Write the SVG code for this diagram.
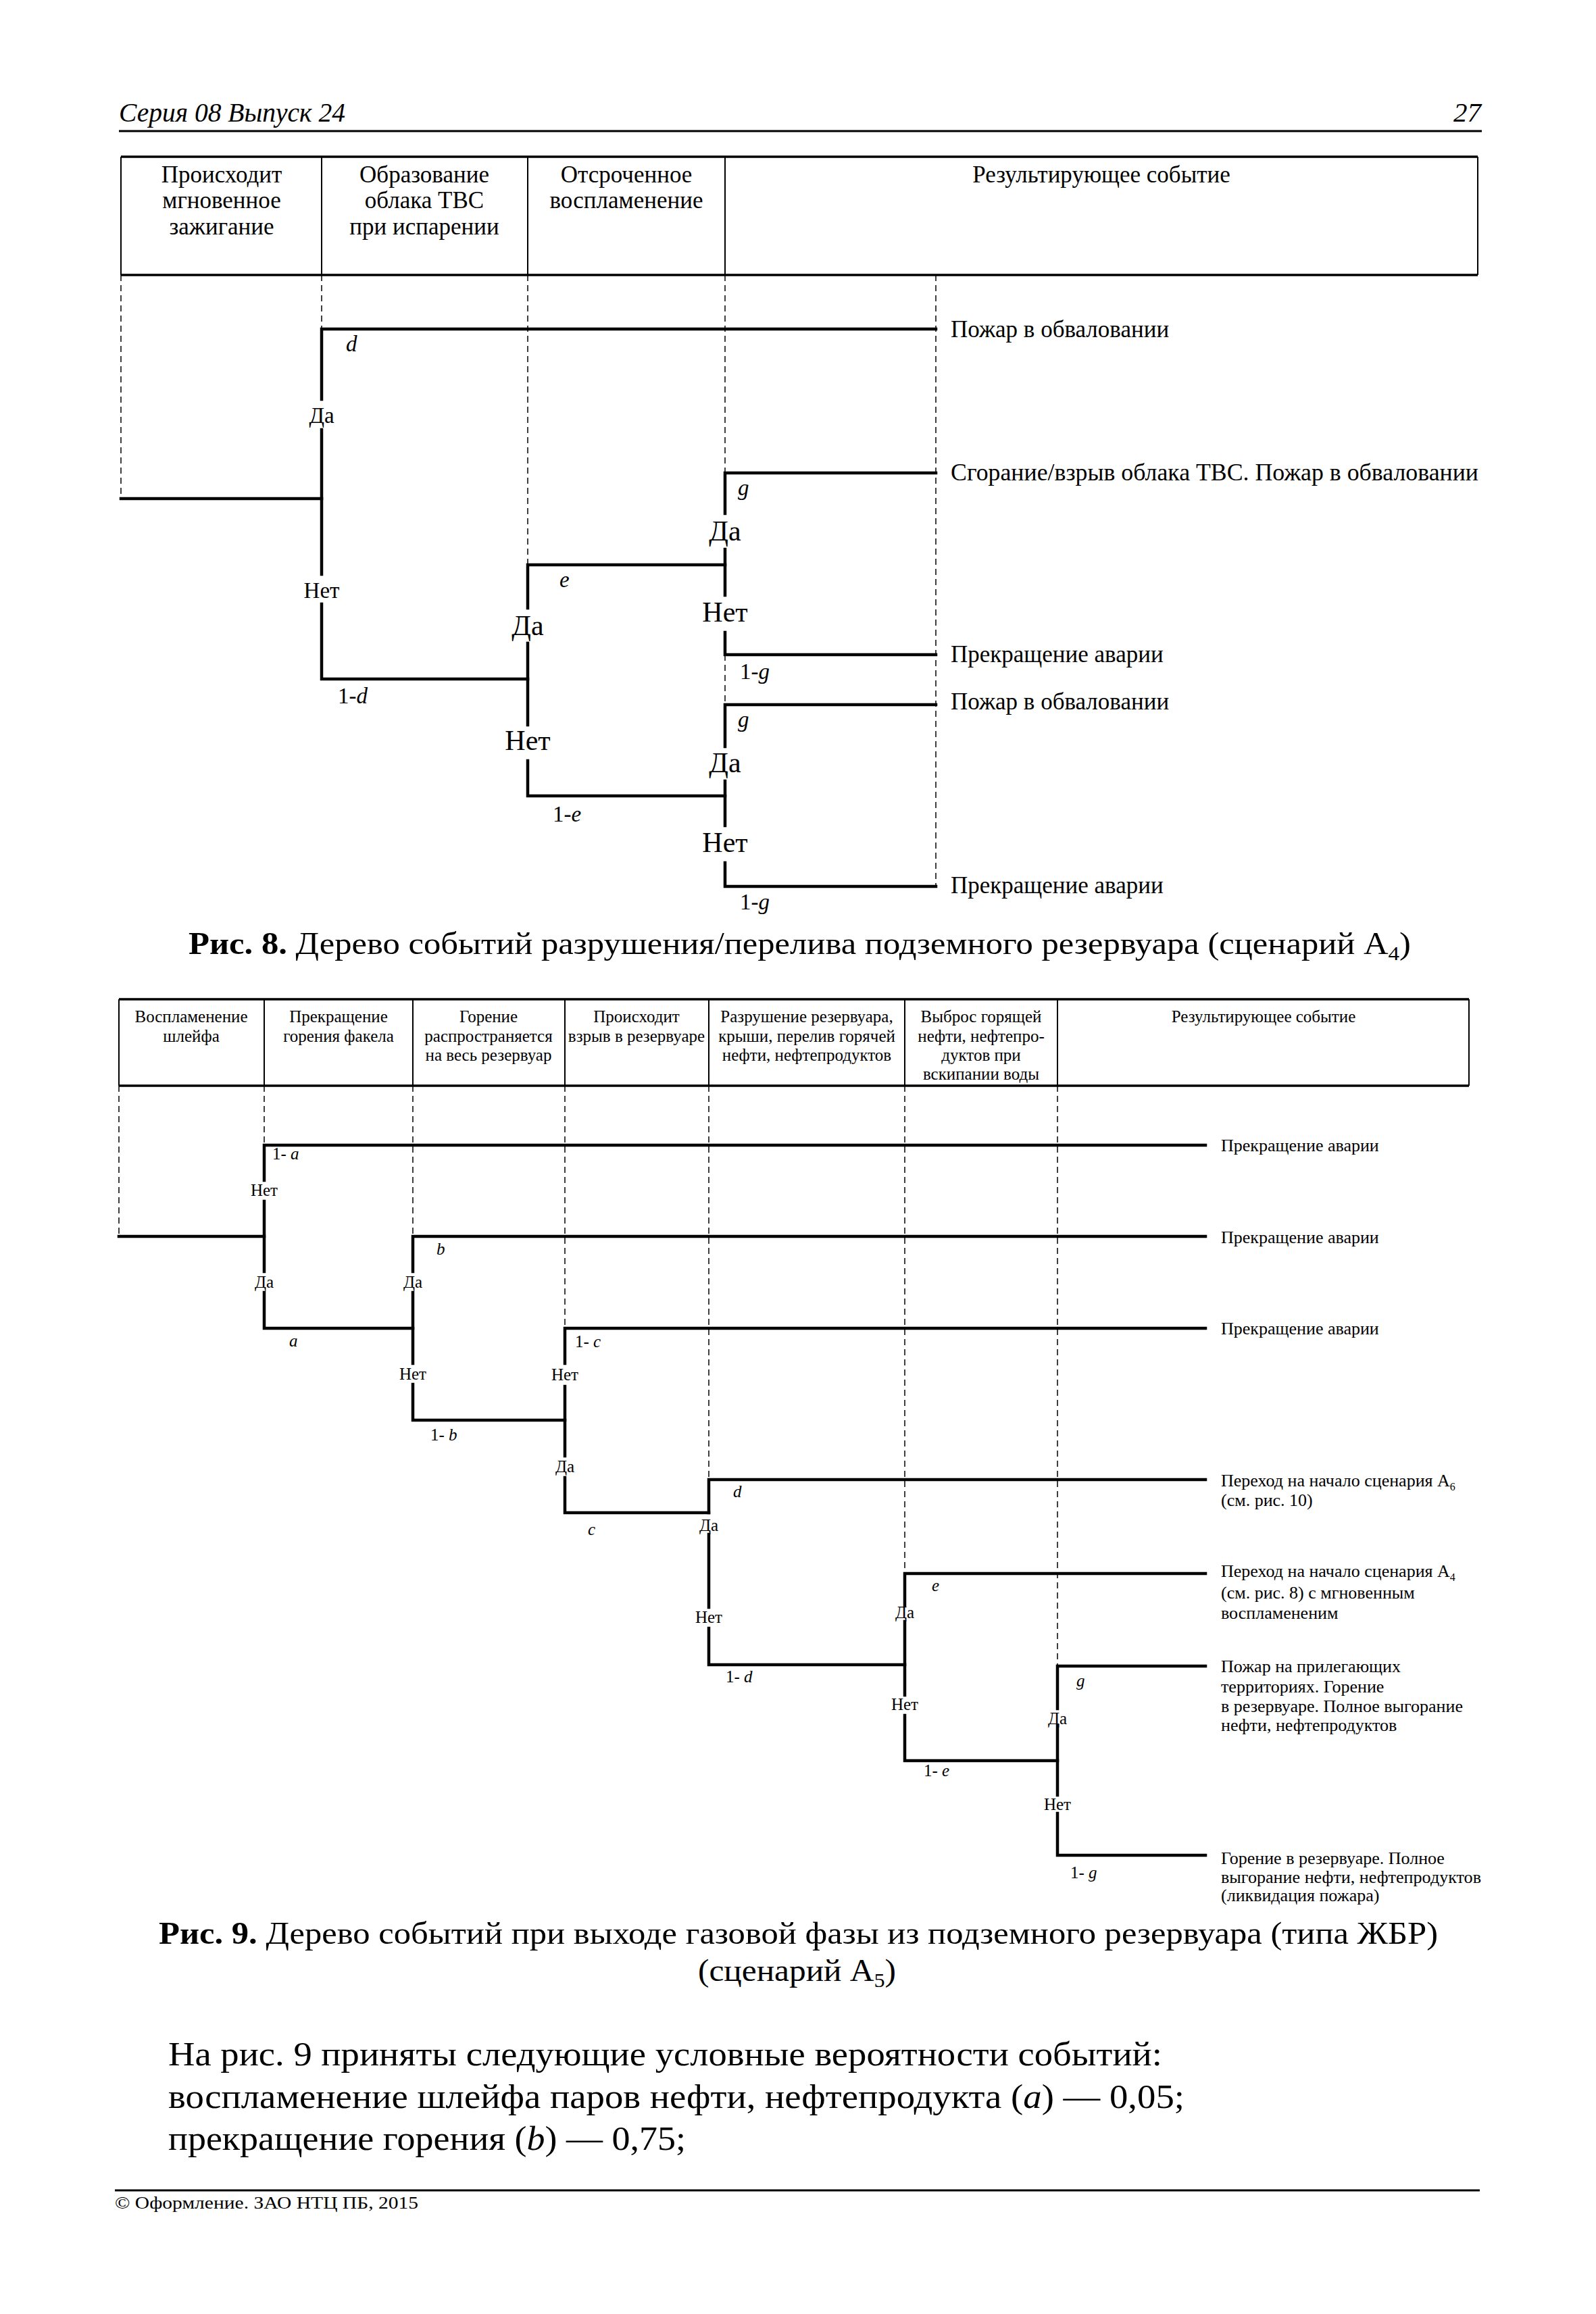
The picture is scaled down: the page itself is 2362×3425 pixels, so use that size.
<svg xmlns="http://www.w3.org/2000/svg" width="2362" height="3425" viewBox="0 0 2362 3425">
<style>
text{font-family:"Liberation Serif","Times New Roman",serif;fill:#000}
.it{font-style:italic}
.b{font-weight:bold}
.m{text-anchor:middle}
.h8{font-size:35px}
.l1{font-size:33px}
.l2{font-size:42px}
.r8{font-size:35px}
.h9{font-size:25px}
.l9{font-size:25px}
.r9{font-size:26px}
.cap{font-size:46px}
.body{font-size:51px}
.br{stroke:#000;stroke-width:4.5;fill:none;stroke-linecap:square}
.ds{stroke:#000;stroke-width:1.5;fill:none;stroke-dasharray:9 6}
.tb{stroke:#000;stroke-width:2;fill:none}
.tt{stroke:#000;stroke-width:3.5;fill:none}
</style>
<rect x="0" y="0" width="2362" height="3425" fill="#fff"/>

<g id="page-header">
<text x="176" y="180" class="it" font-size="41" textLength="335" lengthAdjust="spacingAndGlyphs">Серия 08 Выпуск 24</text>
<text x="2192" y="180" class="it" font-size="41" text-anchor="end">27</text>
<line x1="176" y1="194" x2="2193" y2="194" stroke="#000" stroke-width="3"/>
</g>

<!-- ================= FIGURE 8 ================= -->
<g id="fig8-table">
<line class="tt" x1="179" y1="232" x2="2187" y2="232"/>
<line class="tt" x1="179" y1="407" x2="2187" y2="407"/>
<line class="tb" x1="179" y1="232" x2="179" y2="407"/>
<line class="tb" x1="476" y1="232" x2="476" y2="407"/>
<line class="tb" x1="781" y1="232" x2="781" y2="407"/>
<line class="tb" x1="1073" y1="232" x2="1073" y2="407"/>
<line class="tb" x1="2187" y1="232" x2="2187" y2="407"/>
<text class="h8 m" x="328" y="270">Происходит</text>
<text class="h8 m" x="328" y="308">мгновенное</text>
<text class="h8 m" x="328" y="347">зажигание</text>
<text class="h8 m" x="628" y="270">Образование</text>
<text class="h8 m" x="628" y="308">облака ТВС</text>
<text class="h8 m" x="628" y="347">при испарении</text>
<text class="h8 m" x="927" y="270">Отсроченное</text>
<text class="h8 m" x="927" y="308">воспламенение</text>
<text class="h8 m" x="1630" y="270">Результирующее событие</text>
</g>

<g id="fig8-connectors">
<line class="ds" x1="179" y1="407" x2="179" y2="738"/>
<line class="ds" x1="476" y1="407" x2="476" y2="487"/>
<line class="ds" x1="781" y1="407" x2="781" y2="836"/>
<line class="ds" x1="1073" y1="407" x2="1073" y2="700"/>
<line class="ds" x1="1073" y1="969" x2="1073" y2="1043"/>
<line class="ds" x1="1385" y1="407" x2="1385" y2="1312"/>
<path class="br" d="M179 738 H476"/>
<path class="br" d="M1385 487 H476 V591 M476 636 V850 M476 894 V1005 H781"/>
<path class="br" d="M1073 836 H781 V900 M781 952 V1073 M781 1126 V1178 H1073"/>
<path class="br" d="M1385 700 H1073 V760 M1073 813 V881 M1073 936 V969 H1385"/>
<path class="br" d="M1385 1043 H1073 V1105 M1073 1156 V1222 M1073 1277 V1312 H1385"/>
</g>

<g id="fig8-node-ignition">
<text class="l1 m" x="476" y="626">Да</text>
<text class="l1 m" x="476" y="885">Нет</text>
<text class="l1 it" x="512" y="520">d</text>
<text class="l1" x="500" y="1041">1-<tspan class="it">d</tspan></text>
</g>
<g id="fig8-node-cloud">
<text class="l2 m" x="781" y="940">Да</text>
<text class="l2 m" x="781" y="1110">Нет</text>
<text class="l1 it" x="828" y="869">e</text>
<text class="l1" x="818" y="1216">1-<tspan class="it">e</tspan></text>
</g>
<g id="fig8-node-delayed-1">
<text class="l2 m" x="1073" y="800">Да</text>
<text class="l2 m" x="1073" y="920">Нет</text>
<text class="l1 it" x="1092" y="733">g</text>
<text class="l1" x="1095" y="1005">1-<tspan class="it">g</tspan></text>
</g>
<g id="fig8-node-delayed-2">
<text class="l2 m" x="1073" y="1143">Да</text>
<text class="l2 m" x="1073" y="1261">Нет</text>
<text class="l1 it" x="1092" y="1076">g</text>
<text class="l1" x="1095" y="1346">1-<tspan class="it">g</tspan></text>
</g>
<g id="fig8-results">
<text class="r8" x="1407" y="499">Пожар в обваловании</text>
<text class="r8" x="1407" y="711" textLength="781" lengthAdjust="spacingAndGlyphs">Сгорание/взрыв облака ТВС. Пожар в обваловании</text>
<text class="r8" x="1407" y="980">Прекращение аварии</text>
<text class="r8" x="1407" y="1050">Пожар в обваловании</text>
<text class="r8" x="1407" y="1322">Прекращение аварии</text>
</g>

<g id="fig8-caption">
<text class="cap" x="279" y="1412" textLength="1809" lengthAdjust="spacingAndGlyphs"><tspan class="b">Рис. 8.</tspan> Дерево событий разрушения/перелива подземного резервуара (сценарий А<tspan font-size="30" dy="9">4</tspan><tspan dy="-9">)</tspan></text>
</g>

<!-- ================= FIGURE 9 ================= -->
<g id="fig9-table">
<line class="tt" x1="176" y1="1479" x2="2174" y2="1479"/>
<line class="tt" x1="176" y1="1607" x2="2174" y2="1607"/>
<line class="tb" x1="176" y1="1479" x2="176" y2="1607"/>
<line class="tb" x1="391" y1="1479" x2="391" y2="1607"/>
<line class="tb" x1="611" y1="1479" x2="611" y2="1607"/>
<line class="tb" x1="836" y1="1479" x2="836" y2="1607"/>
<line class="tb" x1="1049" y1="1479" x2="1049" y2="1607"/>
<line class="tb" x1="1339" y1="1479" x2="1339" y2="1607"/>
<line class="tb" x1="1565" y1="1479" x2="1565" y2="1607"/>
<line class="tb" x1="2174" y1="1479" x2="2174" y2="1607"/>
<text class="h9 m" x="283" y="1513">Воспламенение</text>
<text class="h9 m" x="283" y="1542">шлейфа</text>
<text class="h9 m" x="501" y="1513">Прекращение</text>
<text class="h9 m" x="501" y="1542">горения факела</text>
<text class="h9 m" x="723" y="1513">Горение</text>
<text class="h9 m" x="723" y="1542">распространяется</text>
<text class="h9 m" x="723" y="1570">на весь резервуар</text>
<text class="h9 m" x="942" y="1513">Происходит</text>
<text class="h9 m" x="942" y="1542">взрыв в резервуаре</text>
<text class="h9 m" x="1194" y="1513">Разрушение резервуара,</text>
<text class="h9 m" x="1194" y="1542">крыши, перелив горячей</text>
<text class="h9 m" x="1194" y="1570">нефти, нефтепродуктов</text>
<text class="h9 m" x="1452" y="1513">Выброс горящей</text>
<text class="h9 m" x="1452" y="1542">нефти, нефтепро-</text>
<text class="h9 m" x="1452" y="1570">дуктов при</text>
<text class="h9 m" x="1452" y="1598">вскипании воды</text>
<text class="h9 m" x="1870" y="1513">Результирующее событие</text>
</g>

<g id="fig9-connectors">
<line class="ds" x1="176" y1="1607" x2="176" y2="1830"/>
<line class="ds" x1="391" y1="1607" x2="391" y2="1695"/>
<line class="ds" x1="611" y1="1607" x2="611" y2="1830"/>
<line class="ds" x1="836" y1="1607" x2="836" y2="1966"/>
<line class="ds" x1="1049" y1="1607" x2="1049" y2="2190"/>
<line class="ds" x1="1339" y1="1607" x2="1339" y2="2329" stroke-width="2.5"/>
<line class="ds" x1="1565" y1="1607" x2="1565" y2="2466"/>
<path class="br" d="M176 1830 H391"/>
<path class="br" d="M1784 1695 H391 V1747 M391 1778 V1882 M391 1913 V1966 H611"/>
<path class="br" d="M1784 1830 H611 V1882 M611 1913 V2018 M611 2049 V2102 H836"/>
<path class="br" d="M1784 1966 H836 V2018 M836 2052 V2155 M836 2187 V2239 H1049"/>
<path class="br" d="M1784 2190 H1049 V2239 M1049 2271 V2379 M1049 2410 V2464 H1339"/>
<path class="br" d="M1784 2329 H1339 V2377 M1339 2400 V2509 M1339 2539 V2606 H1565"/>
<path class="br" d="M1784 2466 H1565 V2529 M1565 2554 V2657 M1565 2684 V2746 H1784"/>
</g>

<g id="fig9-node-a">
<text class="l9 m" x="391" y="1770">Нет</text>
<text class="l9 m" x="391" y="1906">Да</text>
<text class="l9" x="403" y="1716">1- <tspan class="it">a</tspan></text>
<text class="l9 it" x="428" y="1993">a</text>
</g>
<g id="fig9-node-b">
<text class="l9 m" x="611" y="1906">Да</text>
<text class="l9 m" x="611" y="2042">Нет</text>
<text class="l9 it" x="646" y="1857">b</text>
<text class="l9" x="637" y="2132">1- <tspan class="it">b</tspan></text>
</g>
<g id="fig9-node-c">
<text class="l9 m" x="836" y="2043">Нет</text>
<text class="l9 m" x="836" y="2179">Да</text>
<text class="l9" x="851" y="1994">1- <tspan class="it">c</tspan></text>
<text class="l9 it" x="870" y="2272">c</text>
</g>
<g id="fig9-node-d">
<text class="l9 m" x="1049" y="2266">Да</text>
<text class="l9 m" x="1049" y="2402">Нет</text>
<text class="l9 it" x="1085" y="2216">d</text>
<text class="l9" x="1074" y="2490">1- <tspan class="it">d</tspan></text>
</g>
<g id="fig9-node-e">
<text class="l9 m" x="1339" y="2395">Да</text>
<text class="l9 m" x="1339" y="2531">Нет</text>
<text class="l9 it" x="1379" y="2355">e</text>
<text class="l9" x="1367" y="2629">1- <tspan class="it">e</tspan></text>
</g>
<g id="fig9-node-g">
<text class="l9 m" x="1565" y="2552">Да</text>
<text class="l9 m" x="1565" y="2679">Нет</text>
<text class="l9 it" x="1593" y="2496">g</text>
<text class="l9" x="1584" y="2780">1- <tspan class="it">g</tspan></text>
</g>
<g id="fig9-results">
<text class="r9" x="1807" y="1704">Прекращение аварии</text>
<text class="r9" x="1807" y="1840">Прекращение аварии</text>
<text class="r9" x="1807" y="1975">Прекращение аварии</text>
<text class="r9" x="1807" y="2200">Переход на начало сценария А<tspan font-size="16" dy="6">6</tspan></text>
<text class="r9" x="1807" y="2229">(см. рис. 10)</text>
<text class="r9" x="1807" y="2334">Переход на начало сценария А<tspan font-size="16" dy="6">4</tspan></text>
<text class="r9" x="1807" y="2366">(см. рис. 8) с мгновенным</text>
<text class="r9" x="1807" y="2396">воспламененим</text>
<text class="r9" x="1807" y="2475">Пожар на прилегающих</text>
<text class="r9" x="1807" y="2505">территориях. Горение</text>
<text class="r9" x="1807" y="2534">в резервуаре. Полное выгорание</text>
<text class="r9" x="1807" y="2562">нефти, нефтепродуктов</text>
<text class="r9" x="1807" y="2759">Горение в резервуаре. Полное</text>
<text class="r9" x="1807" y="2787" textLength="385" lengthAdjust="spacingAndGlyphs">выгорание нефти, нефтепродуктов</text>
<text class="r9" x="1807" y="2814">(ликвидация пожара)</text>
</g>

<g id="fig9-caption">
<text class="cap" x="235" y="2877" textLength="1893" lengthAdjust="spacingAndGlyphs"><tspan class="b">Рис. 9.</tspan> Дерево событий при выходе газовой фазы из подземного резервуара (типа ЖБР)</text>
<text class="cap" x="1033" y="2932" textLength="293" lengthAdjust="spacingAndGlyphs">(сценарий А<tspan font-size="30" dy="9">5</tspan><tspan dy="-9">)</tspan></text>
</g>

<g id="body-text">
<text class="body" x="249" y="3057" textLength="1471" lengthAdjust="spacingAndGlyphs">На рис. 9 приняты следующие условные вероятности событий:</text>
<text class="body" x="249" y="3120" textLength="1504" lengthAdjust="spacingAndGlyphs">воспламенение шлейфа паров нефти, нефтепродукта (<tspan class="it">a</tspan>) — 0,05;</text>
<text class="body" x="249" y="3182" textLength="766" lengthAdjust="spacingAndGlyphs">прекращение горения (<tspan class="it">b</tspan>) — 0,75;</text>
</g>

<g id="page-footer">
<line x1="170" y1="3242" x2="2190" y2="3242" stroke="#000" stroke-width="3"/>
<text x="170" y="3269" font-size="26" textLength="449" lengthAdjust="spacingAndGlyphs">© Оформление. ЗАО НТЦ ПБ, 2015</text>
</g>
</svg>
